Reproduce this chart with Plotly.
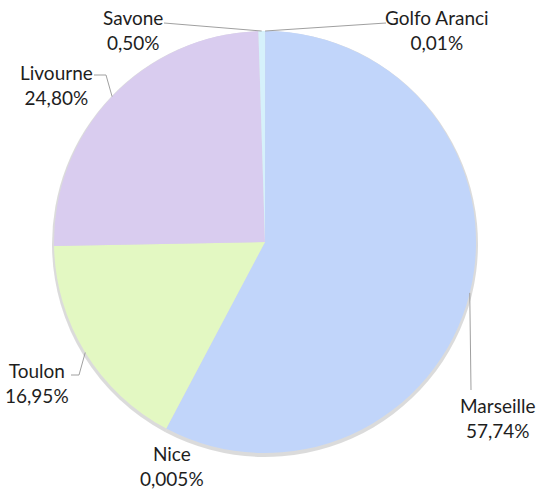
import math
import plotly.graph_objects as go

# ---- data (clockwise from 12 o'clock) ----
ports = ["Golfo Aranci", "Marseille", "Nice", "Toulon", "Livourne", "Savone"]
shares = [0.01, 57.74, 0.005, 16.95, 24.80, 0.50]
colors = ["#f6c9a0", "#c1d5fa", "#f4d7b0", "#e3f8c2", "#d9ccef", "#d6f1fb"]

W, H = 536, 490
CX, CY, R = 265, 242, 211   # pie centre / radius in px

# label placement (px) and elbow points for the leader lines
label_pos = {
    "Golfo Aranci": (437, 30),
    "Marseille": (497, 418),
    "Nice": (172, 466),
    "Toulon": (37, 383),
    "Livourne": (56, 85),
    "Savone": (133, 30),
}
line_start = {
    "Golfo Aranci": [(386, 23)],
    "Marseille": [(471, 390)],
    "Nice": None,
    "Toulon": [(71, 375), (79, 375)],
    "Livourne": [(94, 75), (106, 75)],
    "Savone": [(164, 23)],
}


def fmt(v):
    s = f"{v:.3f}" if v < 0.01 else f"{v:.2f}"
    return s.replace(".", ",") + "%"


def px(x, y):
    return x / W, 1 - y / H


def dom(cx, cy, r):
    x0, y1 = px(cx - r, cy - r)
    x1, y0 = px(cx + r, cy + r)
    return dict(x=[x0, x1], y=[y0, y1])


fig = go.Figure()

# soft shadow underneath
fig.add_trace(go.Pie(
    values=shares, labels=ports, sort=False, direction="clockwise", rotation=0,
    marker=dict(colors=["rgba(0,0,0,0.14)"] * len(ports), line=dict(width=0)),
    textinfo="none", hoverinfo="skip", showlegend=False,
    domain=dom(CX, CY + 2, R + 2),
))

fig.add_trace(go.Pie(
    values=shares, labels=ports, sort=False, direction="clockwise", rotation=0,
    marker=dict(colors=colors, line=dict(width=0)),
    textinfo="none", showlegend=False,
    domain=dom(CX, CY, R),
))

total = sum(shares)
cum = 0
shapes, annots = [], []
for name, v in zip(ports, shares):
    mid = (cum + v / 2) / total * 2 * math.pi
    cum += v
    ax_, ay_ = CX + R * math.sin(mid), CY - R * math.cos(mid)
    lx, ly = label_pos[name]
    annots.append(dict(
        x=px(lx, ly)[0], y=px(lx, ly)[1], xref="paper", yref="paper",
        text=f"{name}<br>{fmt(v)}", showarrow=False, align="center",
        xanchor="center", yanchor="middle",
        font=dict(family="Lato", size=19, color="#1e1e1e"),
    ))
    pts = line_start[name]
    if pts:
        path = "M " + " L ".join(f"{px(a, b)[0]},{px(a, b)[1]}" for a, b in pts + [(ax_, ay_)])
        shapes.append(dict(type="path", path=path, xref="paper", yref="paper",
                           line=dict(color="#a0a0a0", width=1)))

fig.update_layout(
    width=W, height=H,
    margin=dict(l=0, r=0, t=0, b=0),
    paper_bgcolor="white", plot_bgcolor="white",
    shapes=shapes, annotations=annots,
)

# drop the browser's default 8px body margin so the figure sits at (0, 0)
fig.write_html("out.html", config={"displayModeBar": False},
               post_script="document.body.style.margin='0';")
